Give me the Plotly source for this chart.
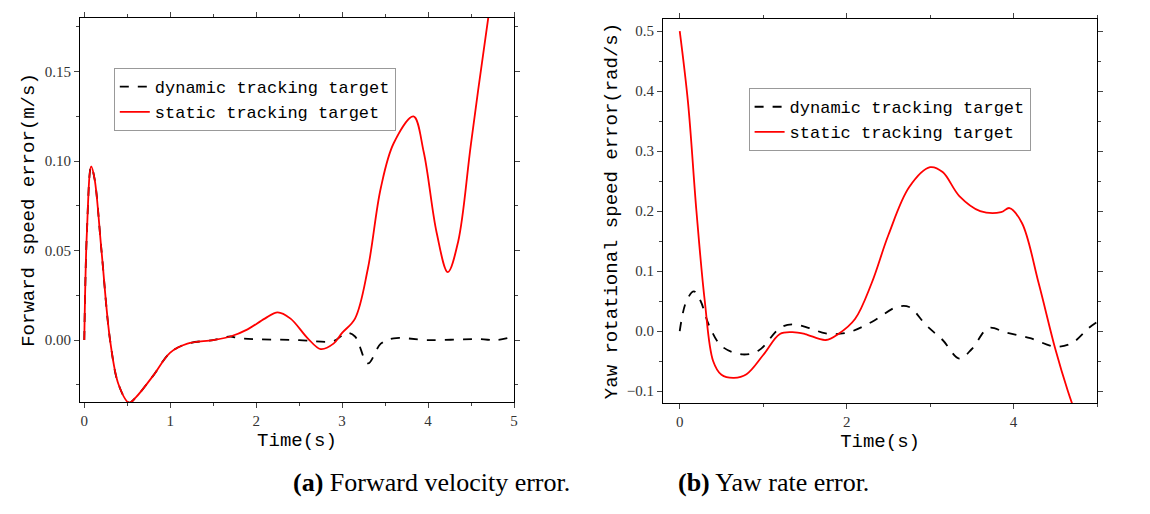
import plotly.graph_objects as go

# (a) forward speed error
t_fs = [0, 0.03, 0.08, 0.12, 0.2, 0.3, 0.4, 0.52, 0.6, 0.8, 1.0, 1.2, 1.5, 1.7, 1.9, 2.1, 2.25, 2.4,
        2.6, 2.75, 2.9, 3.0, 3.15, 3.3, 3.45, 3.6, 3.83, 3.95, 4.1, 4.23, 4.35, 4.5, 4.7, 4.8]
fs_static = [0, 0.06, 0.097, 0.09, 0.05, 0.0, -0.025, -0.035, -0.032, -0.02, -0.007, -0.002, 0, 0.002,
             0.006, 0.012, 0.0155, 0.012, 0.001, -0.005, -0.002, 0.004, 0.012, 0.04, 0.085, 0.11, 0.125,
             0.105, 0.06, 0.038, 0.055, 0.11, 0.18, 0.21]
t_fd = [0, 0.03, 0.08, 0.12, 0.2, 0.3, 0.4, 0.52, 0.6, 0.8, 1.0, 1.2, 1.5, 1.7, 1.8, 2.5, 2.9, 3.05,
        3.15, 3.3, 3.45, 3.6, 4.0, 4.6, 4.8, 5.0]
fs_dynamic = [0, 0.06, 0.097, 0.09, 0.05, 0.0, -0.025, -0.035, -0.032, -0.02, -0.007, -0.002, 0, 0.002,
              0.001, 0.0, -0.0005, 0.004, 0.002, -0.013, -0.002, 0.001, 0.0, 0.0005, 0.0, 0.002]

# (b) yaw rate error
t_ys = [0, 0.1, 0.2, 0.3, 0.4, 0.5, 0.65, 0.8, 1.0, 1.2, 1.35, 1.5, 1.75, 1.9, 2.1, 2.3, 2.5, 2.75,
        3.0, 3.15, 3.35, 3.6, 3.85, 3.95, 4.1, 4.3, 4.5, 4.65, 4.75]
yaw_static = [0.5, 0.38, 0.2, 0.05, -0.05, -0.073, -0.078, -0.072, -0.04, -0.005, -0.002, -0.005, -0.015,
              -0.005, 0.02, 0.08, 0.16, 0.24, 0.273, 0.265, 0.225, 0.2, 0.198, 0.205, 0.18, 0.08, -0.03,
              -0.1, -0.14]
t_yd = [0, 0.08, 0.17, 0.25, 0.35, 0.5, 0.75, 0.95, 1.2, 1.35, 1.55, 1.75, 2.0, 2.3, 2.6, 2.75, 2.95,
        3.15, 3.35, 3.5, 3.7, 3.9, 4.2, 4.5, 4.7, 4.9, 5.0]
yaw_dynamic = [0, 0.05, 0.066, 0.05, 0.01, -0.025, -0.039, -0.032, 0.005, 0.011, 0.005, -0.004, -0.003,
               0.015, 0.04, 0.04, 0.01, -0.015, -0.046, -0.03, 0.005, -0.002, -0.012, -0.026, -0.02,
               0.005, 0.015]

mono = "Liberation Mono"
fig = go.Figure()
fig.add_trace(go.Scatter(x=t_fd, y=fs_dynamic, mode="lines", line=dict(color="black", dash="dash", width=1.8, shape="spline"),
                         name="dynamic tracking target", xaxis="x", yaxis="y", legend="legend"))
fig.add_trace(go.Scatter(x=t_fs, y=fs_static, mode="lines", line=dict(color="red", width=1.8, shape="spline"),
                         name="static tracking target", xaxis="x", yaxis="y", legend="legend"))
fig.add_trace(go.Scatter(x=t_yd, y=yaw_dynamic, mode="lines", line=dict(color="black", dash="dash", width=1.8, shape="spline"),
                         name="dynamic tracking target", xaxis="x2", yaxis="y2", legend="legend2"))
fig.add_trace(go.Scatter(x=t_ys, y=yaw_static, mode="lines", line=dict(color="red", width=1.8, shape="spline"),
                         name="static tracking target", xaxis="x2", yaxis="y2", legend="legend2"))

ax = dict(showline=True, linecolor="black", linewidth=1.2, mirror="ticks", ticks="outside", ticklen=5,
          showgrid=False, zeroline=False, automargin=False,
          tickfont=dict(family="Liberation Serif", size=15, color="#333"),
          minor=dict(ticks="outside", ticklen=3, showgrid=False))
legend_style = dict(bgcolor="white", bordercolor="#999", borderwidth=1,
                    font=dict(family=mono, size=17, color="black"), tracegroupgap=0)
title_font = dict(family=mono, size=19, color="black")

fig.update_layout(
    width=1150, height=514, margin=dict(l=0, r=0, t=0, b=0, autoexpand=False),
    plot_bgcolor="white", paper_bgcolor="white",
    xaxis=dict(ax, domain=[0.0626, 0.44], range=[-0.05, 5], dtick=1, minor=dict(ax["minor"], dtick=0.5),
               anchor="y", title=dict(text="Time(s)", font=title_font, standoff=4)),
    yaxis=dict(ax, domain=[0.2335, 0.9805], range=[-0.0346, 0.18], dtick=0.05, tickformat=".2f",
               minor=dict(ax["minor"], dtick=0.025), anchor="x",
               title=dict(text="Forward speed error(m/s)", font=title_font, standoff=4)),
    xaxis2=dict(ax, domain=[0.5696, 0.947], range=[-0.2, 5], dtick=2, minor=dict(ax["minor"], dtick=1),
                anchor="y2", title=dict(text="Time(s)", font=title_font, standoff=4)),
    yaxis2=dict(ax, domain=[0.2315, 0.9785], range=[-0.12, 0.52], dtick=0.1, tickformat=".1f",
                minor=dict(ax["minor"], dtick=0.05), anchor="x2",
                title=dict(text="Yaw rotational speed error(rad/s)", font=title_font, standoff=4)),
    legend=dict(legend_style, x=0.092, y=0.883, xanchor="left", yanchor="top"),
    legend2=dict(legend_style, x=0.644, y=0.844, xanchor="left", yanchor="top"),
    annotations=[
        dict(text="<b>(a)</b> Forward velocity error.", x=0.246, y=0.045, xref="paper", yref="paper",
             showarrow=False, font=dict(family="Liberation Serif", size=26, color="black")),
        dict(text="<b>(b)</b> Yaw rate error.", x=0.75, y=0.045, xref="paper", yref="paper",
             showarrow=False, font=dict(family="Liberation Serif", size=26, color="black")),
    ],
)
fig.write_html("out.html")
